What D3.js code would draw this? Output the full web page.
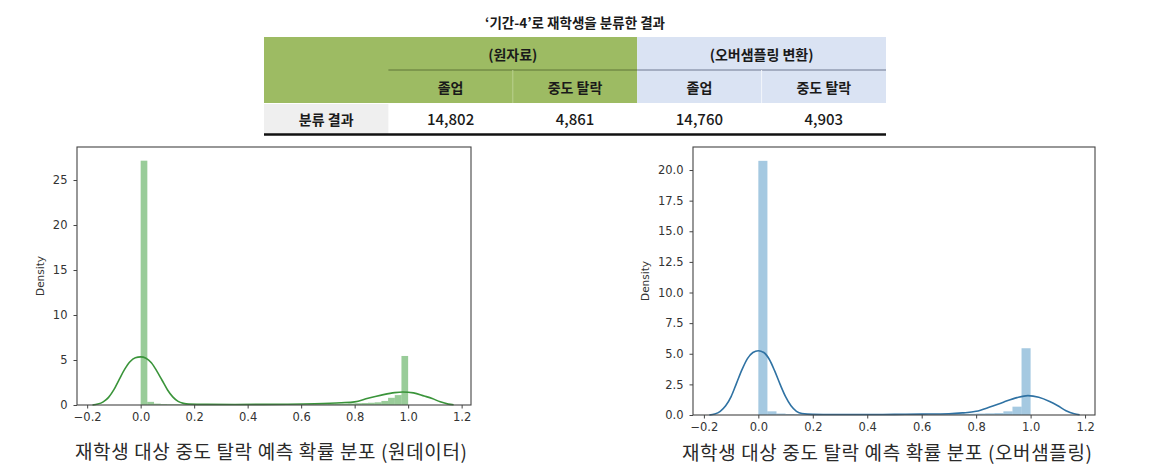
<!DOCTYPE html>
<meta charset="utf-8">
<style>
body { margin: 0; background: #fff; }
.axis .tick line { stroke: #444; }
.frame { fill: none; stroke: #444; stroke-width: 1.1px; }
.ylab { font: 10.5px "DejaVu Sans", sans-serif; fill: #333; }
.cap { font-family: "Noto Sans CJK KR", sans-serif; font-size: 19px; fill: #2a2a2a; }
.tbl { font-family: "Noto Sans CJK KR", sans-serif; fill: #1a1a1a; }
</style>
<body>
<script src="https://d3js.org/d3.v7.min.js"></script>
<script>
// ---- table data
var tableTitle = "‘기간-4’로 재학생을 분류한 결과";
var groupLabels = ["(원자료)", "(오버샘플링 변환)"];
var subLabels = ["졸업", "중도 탈락", "졸업", "중도 탈락"];
var rowLabel = "분류 결과";
var counts = [14802, 4861, 14760, 4903];

// ---- left panel: raw data (histogram density, 40 bins over 0..1)
var rawBinWidth = 0.025;
var rawHist = [27.15, 0.35, 0.15, 0.1, 0.08, 0.08, 0.06, 0.06, 0.05, 0.05,
               0.05, 0.05, 0.05, 0.05, 0.05, 0.05, 0.05, 0.06, 0.06, 0.06,
               0.06, 0.07, 0.07, 0.08, 0.08, 0.09, 0.1, 0.1, 0.12, 0.13,
               0.15, 0.17, 0.2, 0.22, 0.25, 0.3, 0.45, 0.8, 1.1, 5.45];
var rawKdeX = [-0.18, -0.16, -0.14, -0.12, -0.1, -0.08, -0.06, -0.04, -0.02, 0,
               0.02, 0.04, 0.06, 0.08, 0.1, 0.12, 0.14, 0.16, 0.18, 0.25,
               0.35, 0.45, 0.55, 0.65, 0.75, 0.8, 0.85, 0.9, 0.95, 0.98,
               1.02, 1.06, 1.09, 1.12, 1.15, 1.17];
var rawKdeY = [0, 0.1, 0.35, 0.85, 1.7, 2.85, 3.95, 4.8, 5.25, 5.35,
               5.2, 4.7, 3.8, 2.75, 1.7, 0.9, 0.4, 0.18, 0.1, 0.07,
               0.06, 0.07, 0.09, 0.14, 0.25, 0.35, 0.75, 1.1, 1.38, 1.45,
               1.35, 1.0, 0.72, 0.35, 0.1, 0.02];
var rawYTicks = [0, 5, 10, 15, 20, 25];

// ---- right panel: oversampled (30 bins over 0..1)
var ovBinWidth = 1 / 30;
var ovHist = [20.75, 0.3, 0.12, 0.08, 0.06, 0.05, 0.05, 0.05, 0.04, 0.04,
              0.04, 0.04, 0.04, 0.04, 0.04, 0.05, 0.05, 0.05, 0.06, 0.06,
              0.07, 0.08, 0.09, 0.1, 0.12, 0.14, 0.16, 0.3, 0.68, 5.45];
var ovKdeX = [-0.18, -0.16, -0.14, -0.12, -0.1, -0.08, -0.06, -0.04, -0.02, 0,
              0.02, 0.04, 0.06, 0.08, 0.1, 0.12, 0.14, 0.16, 0.2, 0.3,
              0.4, 0.5, 0.6, 0.7, 0.75, 0.8, 0.85, 0.9, 0.95, 0.99,
              1.03, 1.07, 1.1, 1.13, 1.16, 1.18];
var ovKdeY = [0, 0.08, 0.3, 0.75, 1.5, 2.6, 3.7, 4.6, 5.1, 5.25,
              5.1, 4.55, 3.6, 2.5, 1.5, 0.75, 0.3, 0.12, 0.05, 0.04,
              0.04, 0.05, 0.07, 0.1, 0.17, 0.3, 0.65, 1.05, 1.42, 1.58,
              1.45, 1.1, 0.75, 0.35, 0.1, 0.02];
var ovYTicks = [0, 2.5, 5, 7.5, 10, 12.5, 15, 17.5, 20];

var xTicks = [-0.2, 0, 0.2, 0.4, 0.6, 0.8, 1.0, 1.2];

var svg = d3.select("body").append("svg")
    .attr("width", 1151)
    .attr("height", 469);

// ================= table =================
var col = d3.scaleBand().domain(d3.range(5)).range([264, 886]);
var row = d3.scaleBand().domain(d3.range(3)).range([37, 136]);
var rh = row.bandwidth();

svg.append("text")
    .attr("class", "tbl")
    .attr("x", (col.range()[0] + col.range()[1]) / 2)
    .attr("y", 22)
    .attr("text-anchor", "middle")
    .attr("dominant-baseline", "central")
    .style("font-size", "13.5px")
    .style("font-weight", "bold")
    .text(tableTitle);

// header backgrounds
svg.append("rect")
    .attr("x", col(0)).attr("y", row(0))
    .attr("width", col(3) - col(0)).attr("height", 2 * rh)
    .attr("fill", "#9dbb63");
svg.append("rect")
    .attr("x", col(3)).attr("y", row(0))
    .attr("width", col.range()[1] - col(3)).attr("height", 2 * rh)
    .attr("fill", "#dae3f3");
// label cell of data row
svg.append("rect")
    .attr("x", col(0)).attr("y", row(2) + 1)
    .attr("width", col.bandwidth()).attr("height", rh - 3)
    .attr("fill", "#efefef");

// divider under group labels
svg.append("line")
    .attr("x1", col(1)).attr("x2", col(3))
    .attr("y1", row(1)).attr("y2", row(1))
    .attr("stroke", "#5f7438").attr("stroke-width", 1);
svg.append("line")
    .attr("x1", col(3)).attr("x2", col.range()[1])
    .attr("y1", row(1)).attr("y2", row(1))
    .attr("stroke", "#6e7890").attr("stroke-width", 1);
// faint verticals between sub columns
[2, 4].forEach(function(i) {
  svg.append("line")
      .attr("x1", col(i)).attr("x2", col(i))
      .attr("y1", row(1)).attr("y2", row(2))
      .attr("stroke", i == 2 ? "#b9d08f" : "#f2f5fb").attr("stroke-width", 1);
});
// thick bottom rule
svg.append("line")
    .attr("x1", col.range()[0]).attr("x2", col.range()[1])
    .attr("y1", row(2) + rh - 1.5).attr("y2", row(2) + rh - 1.5)
    .attr("stroke", "#111").attr("stroke-width", 2.6);

groupLabels.forEach(function(g, i) {
  svg.append("text")
      .attr("class", "tbl")
      .attr("x", col(1 + 2 * i) + col.bandwidth())
      .attr("y", row(0) + rh / 2)
      .attr("text-anchor", "middle")
      .attr("dominant-baseline", "central")
      .style("font-size", "14px").style("font-weight", "bold")
      .text(g);
});
svg.selectAll(".sub")
    .data(subLabels)
  .enter().append("text")
    .attr("class", "tbl sub")
    .attr("x", function(d, i) { return col(i + 1) + col.bandwidth() / 2; })
    .attr("y", row(1) + rh / 2)
    .attr("text-anchor", "middle")
    .attr("dominant-baseline", "central")
    .style("font-size", "14px").style("font-weight", "bold")
    .text(function(d) { return d; });
svg.append("text")
    .attr("class", "tbl")
    .attr("x", col(0) + col.bandwidth() / 2)
    .attr("y", row(2) + rh / 2 - 1)
    .attr("text-anchor", "middle")
    .attr("dominant-baseline", "central")
    .style("font-size", "14px").style("font-weight", "bold")
    .text(rowLabel);
svg.selectAll(".cnt")
    .data(counts)
  .enter().append("text")
    .attr("class", "tbl cnt")
    .attr("x", function(d, i) { return col(i + 1) + col.bandwidth() / 2; })
    .attr("y", row(2) + rh / 2 - 1)
    .attr("text-anchor", "middle")
    .attr("dominant-baseline", "central")
    .style("font-size", "15px").style("font-weight", "500")
    .text(function(d) { return d3.format(",")(d); });

// ================= distribution panels =================
function styleTicks(a) {
  a.select(".domain").remove();
  a.selectAll(".tick text")
      .style("font-family", "'DejaVu Sans', sans-serif")
      .style("font-size", "11.5px")
      .attr("fill", "#333");
}

function drawDist(p) {
  var x = d3.scaleLinear().domain(p.xDom).range([p.left, p.right]);
  var y = d3.scaleLinear().domain(p.yDom).range([p.bottom, p.top]);
  var g = svg.append("g");

  // histogram bars
  g.selectAll("rect")
      .data(p.hist)
    .enter().append("rect")
      .attr("x", function(d, i) { return x(i * p.binWidth); })
      .attr("width", function(d, i) { return x((i + 1) * p.binWidth) - x(i * p.binWidth); })
      .attr("y", function(d) { return y(d); })
      .attr("height", function(d) { return y(0) - y(d); })
      .attr("fill", p.color)
      .attr("opacity", 0.4);

  // kde line
  var pts = p.kdeX.map(function(v, i) { return [v, p.kdeY[i]]; });
  g.append("path")
      .datum(pts)
      .attr("fill", "none")
      .attr("stroke", p.lineColor)
      .attr("stroke-width", 1.6)
      .attr("d", d3.line()
          .x(function(d) { return x(d[0]); })
          .y(function(d) { return y(d[1]); })
          .curve(d3.curveMonotoneX));

  // axes
  g.append("g")
      .attr("class", "axis")
      .attr("transform", "translate(0," + p.bottom + ")")
      .call(d3.axisBottom(x).tickValues(xTicks).tickSize(3.5).tickPadding(4)
          .tickFormat(d3.format(".1f")))
      .call(styleTicks);
  g.append("g")
      .attr("class", "axis")
      .attr("transform", "translate(" + p.left + ",0)")
      .call(d3.axisLeft(y).tickValues(p.yTicks).tickSize(3.5).tickPadding(6)
          .tickFormat(d3.format(p.yFmt)))
      .call(styleTicks);

  g.append("rect")
      .attr("class", "frame")
      .attr("x", p.left).attr("y", p.top)
      .attr("width", p.right - p.left).attr("height", p.bottom - p.top);

  g.append("text")
      .attr("class", "ylab")
      .attr("transform", "translate(" + p.ylabX + "," + ((p.top + p.bottom) / 2) + ") rotate(-90)")
      .attr("text-anchor", "middle")
      .text("Density");

  g.append("text")
      .attr("class", "cap")
      .attr("x", p.capX)
      .attr("y", p.capY)
      .attr("text-anchor", "middle")
      .attr("dominant-baseline", "central")
      .attr("textLength", p.capW)
      .attr("lengthAdjust", "spacing")
      .text(p.caption);
}

drawDist({
  left: 77, right: 471, top: 147, bottom: 405,
  xDom: [-0.238, 1.235], yDom: [0, 28.67],
  hist: rawHist, binWidth: rawBinWidth,
  kdeX: rawKdeX, kdeY: rawKdeY,
  yTicks: rawYTicks, yFmt: "d",
  color: "#008000", lineColor: "#3a943a",
  ylabX: 44, capX: 271, capY: 450, capW: 392,
  caption: "재학생 대상 중도 탈락 예측 확률 분포 (원데이터)"
});

drawDist({
  left: 693, right: 1095, top: 147, bottom: 415,
  xDom: [-0.24, 1.2365], yDom: [0, 21.88],
  hist: ovHist, binWidth: ovBinWidth,
  kdeX: ovKdeX, kdeY: ovKdeY,
  yTicks: ovYTicks, yFmt: ".1f",
  color: "#1f77b4", lineColor: "#2f72a3",
  ylabX: 649, capX: 887, capY: 451, capW: 410,
  caption: "재학생 대상 중도 탈락 예측 확률 분포 (오버샘플링)"
});
</script>
</body>
